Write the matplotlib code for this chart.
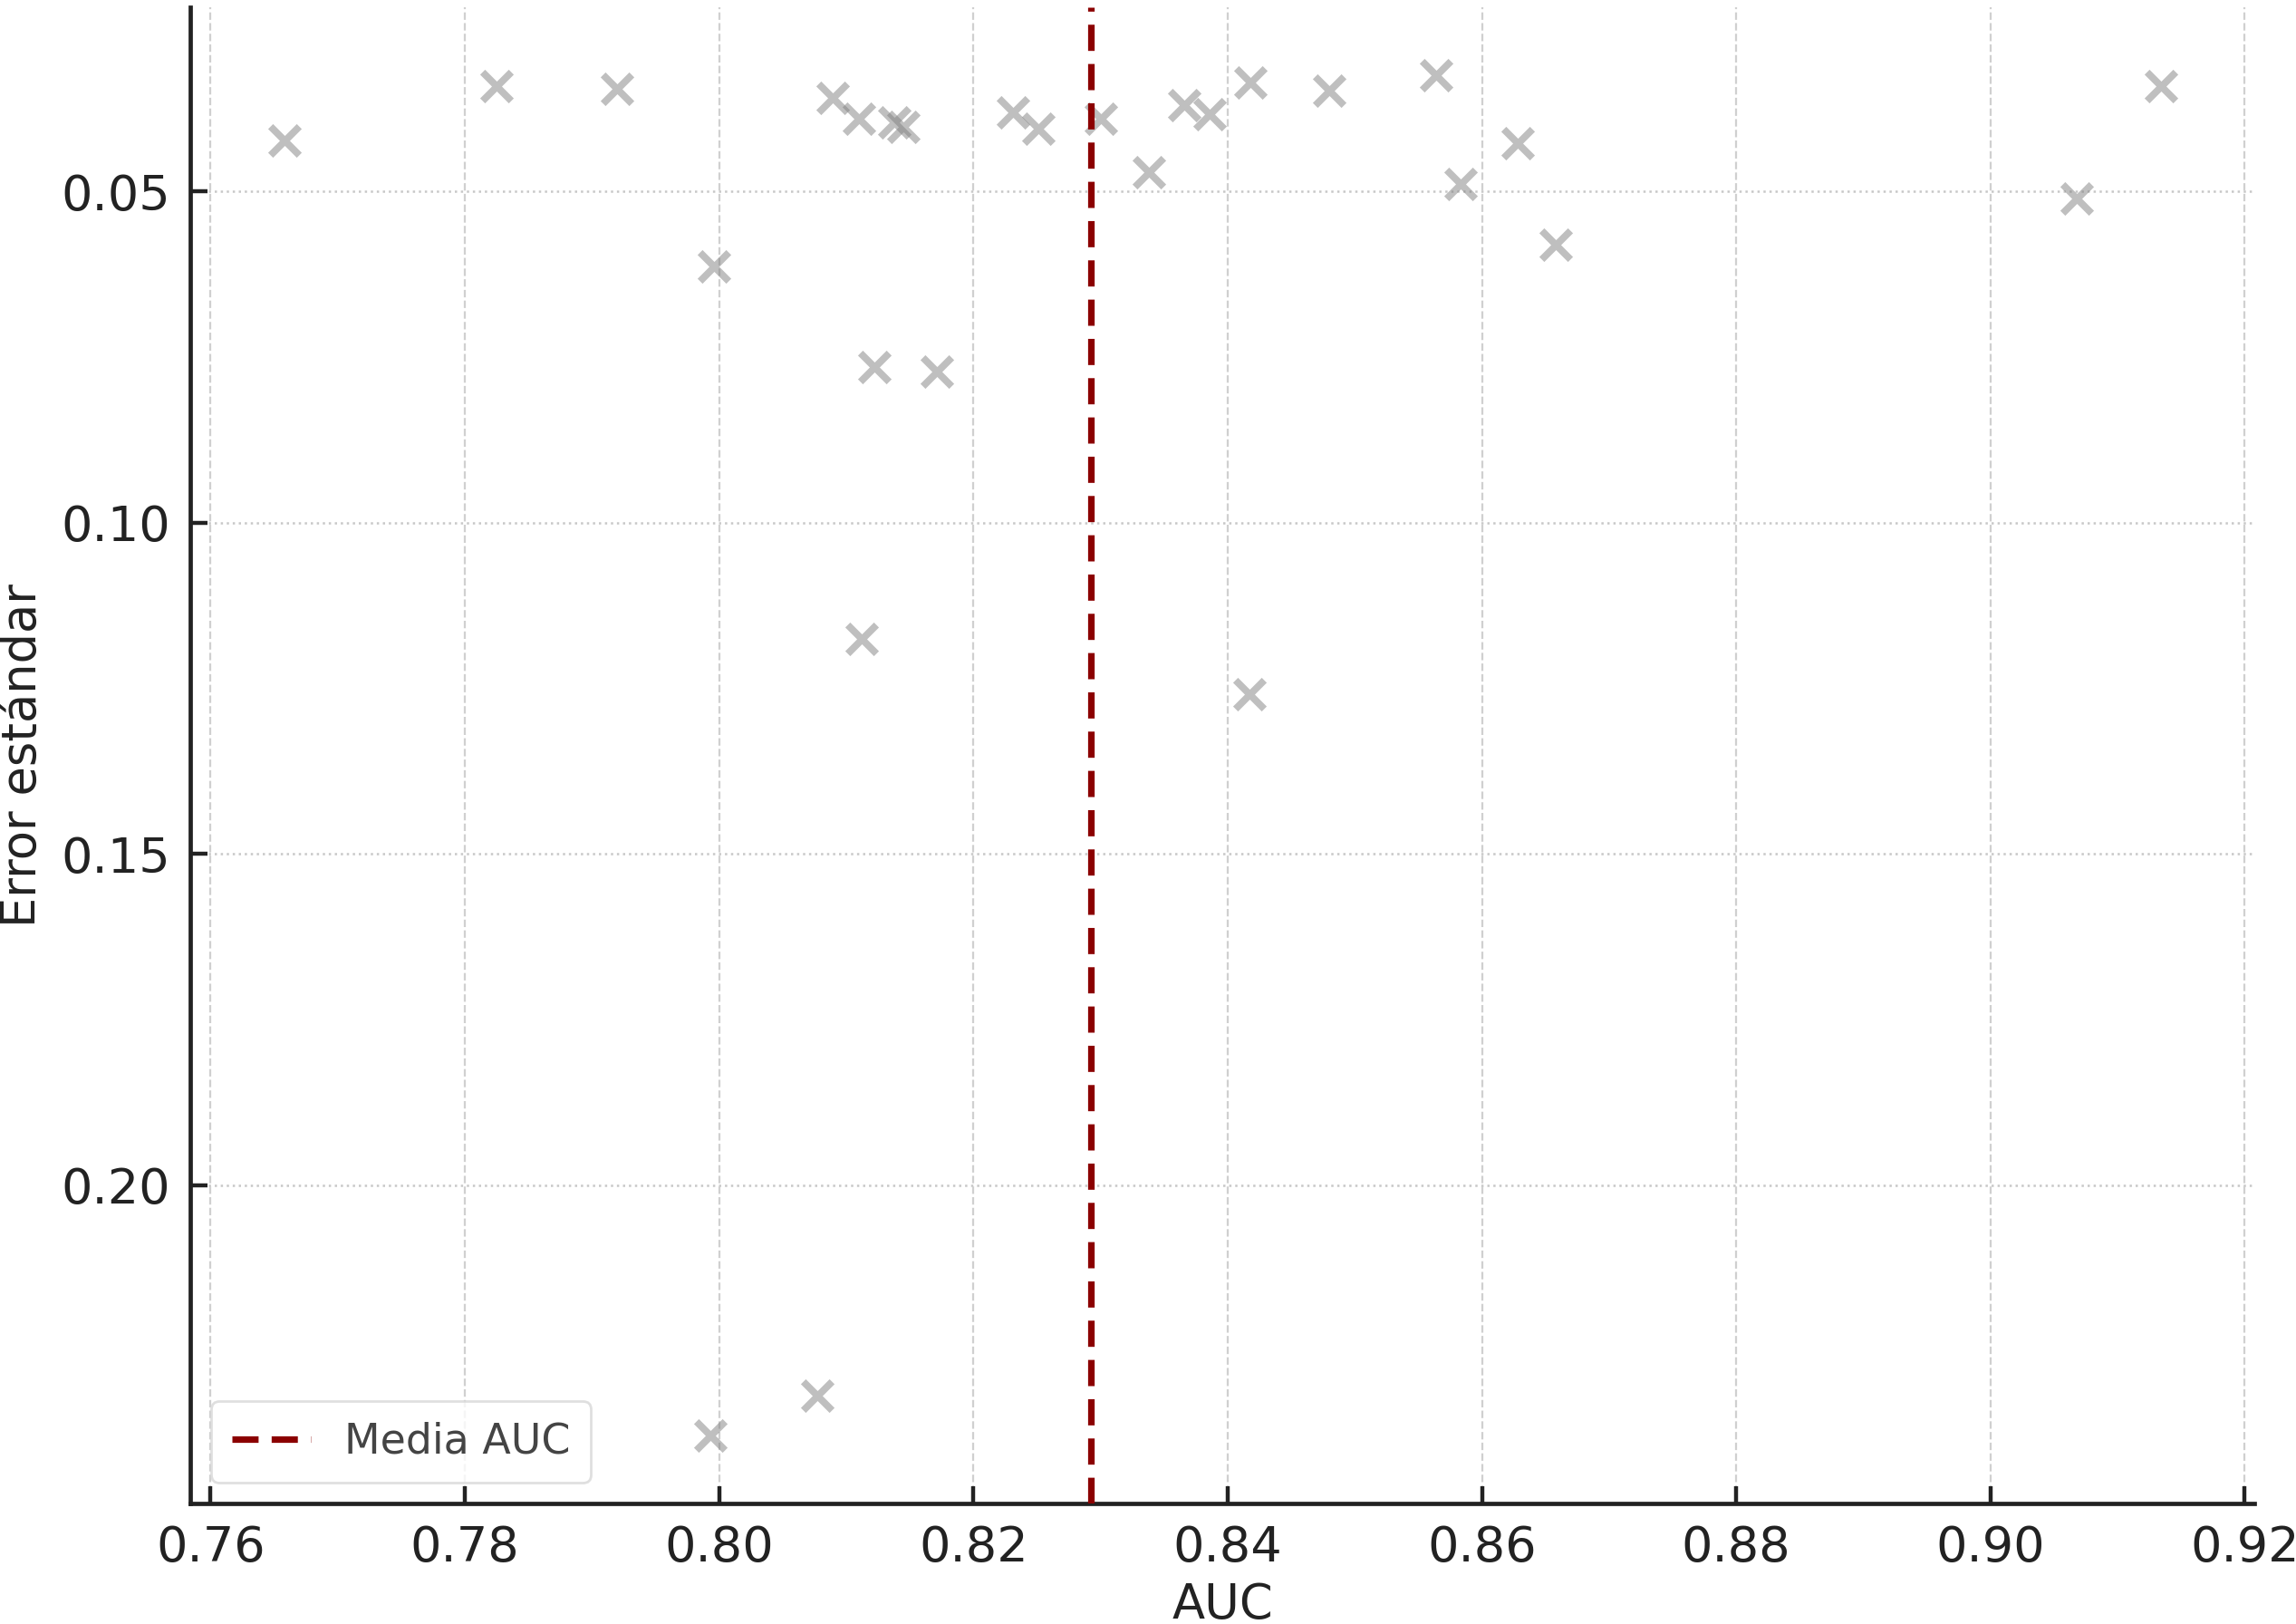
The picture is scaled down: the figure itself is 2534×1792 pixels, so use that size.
import numpy as np
import matplotlib
matplotlib.use('Agg')
import matplotlib.pyplot as plt

# AUC and standard error per study
auc = [0.7658, 0.7825, 0.7920, 0.8089, 0.8110, 0.8138, 0.8145, 0.8231,
       0.8251, 0.8300, 0.8338, 0.8366, 0.8386, 0.8418, 0.8480, 0.8564,
       0.8583, 0.8628, 0.8658, 0.9068, 0.9134, 0.7996, 0.8122, 0.8171,
       0.8112, 0.8417, 0.8077, 0.7993]
std_err = [0.0423, 0.0341, 0.0345, 0.0359, 0.0390, 0.0396, 0.0403, 0.0381,
           0.0405, 0.0390, 0.0471, 0.0370, 0.0383, 0.0336, 0.0348, 0.0325,
           0.0489, 0.0427, 0.0580, 0.0511, 0.0341, 0.0613, 0.0765, 0.0772,
           0.1175, 0.1259, 0.2318, 0.2378]

x_ticks = [0.76, 0.78, 0.80, 0.82, 0.84, 0.86, 0.88, 0.90, 0.92]
y_ticks = [0.05, 0.10, 0.15, 0.20]

mean_auc = np.mean(auc)

fig, ax = plt.subplots(figsize=(12.67, 8.96), dpi=200)
fig.subplots_adjust(left=0.083, right=0.982, top=0.9955, bottom=0.074)

ax.scatter(auc, std_err, marker='x', s=130, linewidths=2.8, color='gray', alpha=0.5, zorder=3)
ax.axvline(mean_auc, color='#8b0000', linestyle=(0, (4, 2)), linewidth=2.6, label='Media AUC', zorder=4)

ax.invert_yaxis()
ax.set_xticks(x_ticks)
ax.set_yticks(y_ticks)
ax.set_xticklabels([f'{t:.2f}' for t in x_ticks])
ax.set_yticklabels([f'{t:.2f}' for t in y_ticks])

ax.grid(axis='x', linestyle='--', color='#d0d0d0', linewidth=0.8)
ax.grid(axis='y', linestyle=':', color='#c8c8c8', linewidth=0.9)
ax.set_axisbelow(True)

for side in ['top', 'right']:
    ax.spines[side].set_visible(False)
for side in ['left', 'bottom']:
    ax.spines[side].set_linewidth(1.7)
    ax.spines[side].set_color('#222222')

ax.tick_params(direction='in', length=7, width=1.6, colors='#222222', labelsize=19.5, pad=8)

ax.set_xlabel('AUC', fontsize=19, color='#222222', labelpad=4)
ax.set_ylabel('Error estándar', fontsize=19, color='#222222', labelpad=6)

leg = ax.legend(loc='lower left', fontsize=16.5, frameon=True, fancybox=True,
                edgecolor='#d8d8d8', handlelength=1.9, borderpad=0.5)
for txt in leg.get_texts():
    txt.set_color('#444444')

fig.savefig('out.png', dpi=200)
